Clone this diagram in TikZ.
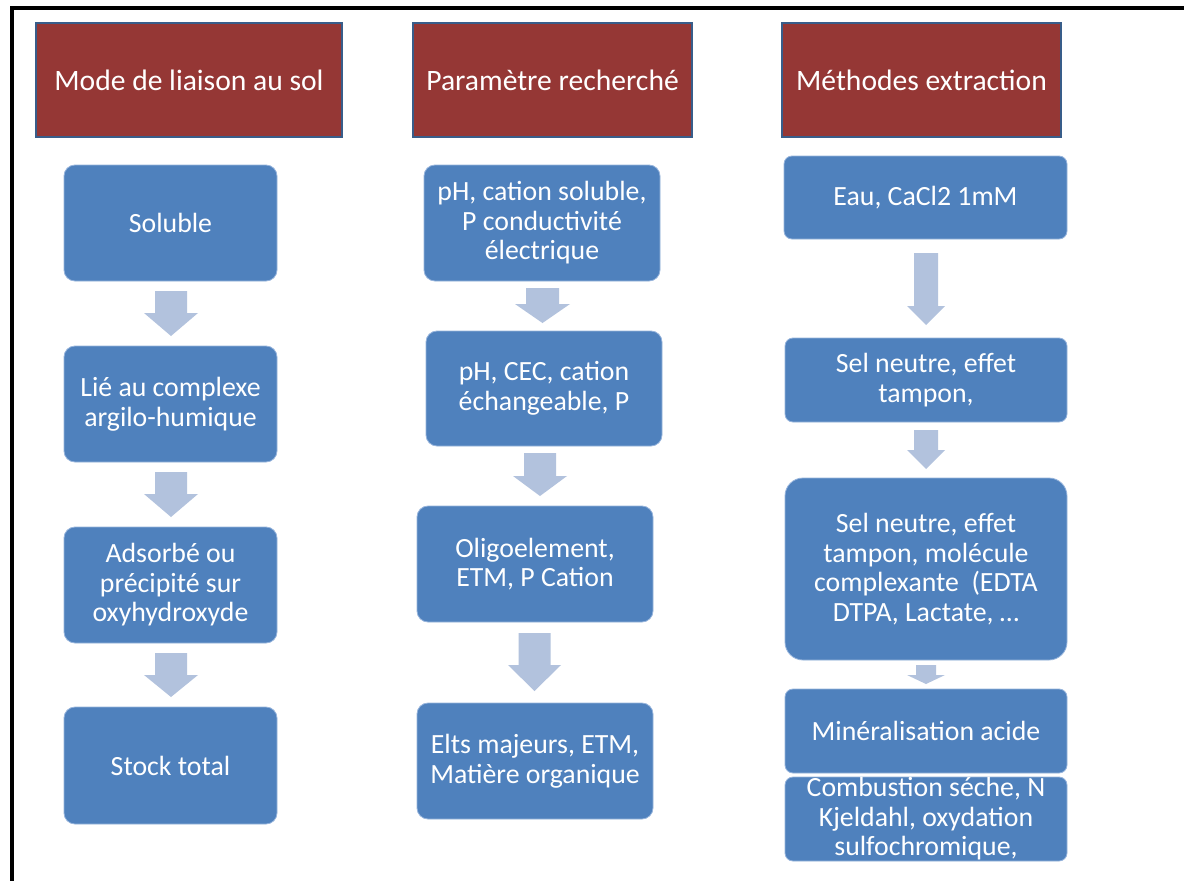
\documentclass[tikz,border=0pt]{standalone}
\usepackage{fontspec}
\setmainfont{Carlito}
\definecolor{boxblue}{RGB}{79,129,189}
\definecolor{boxedge}{RGB}{150,180,220}
\definecolor{arrowfill}{RGB}{178,194,221}
\definecolor{headred}{RGB}{149,55,53}
\definecolor{headedge}{RGB}{56,93,138}
\newcommand\myBodyFont{\fontsize{27.8}{29.5}\selectfont}
\newcommand\myHeadFont{\fontsize{29.6}{31}\selectfont}
\newcommand\blockarr[6]{\fill[arrowfill] ({#1-#5},#2) -- ({#1+#5},#2) -- ({#1+#5},#3) -- ({#1+#6},#3) -- (#1,#4) -- ({#1-#6},#3) -- ({#1-#5},#3) -- cycle;}
\tikzset{
  hdr/.style={rectangle, fill=headred, draw=headedge, line width=2pt, text=white,
    inner sep=0pt, align=center, font=\myHeadFont, minimum width=#1, minimum height=114pt},
  bbox/.style={rectangle, rounded corners=#1, fill=boxblue, draw=boxedge, line width=0.8pt,
    text=white, inner sep=0pt, align=center, font=\myBodyFont},
}
\begin{document}
\begin{tikzpicture}[x=1pt,y=-1pt]
\useasboundingbox (0,0) rectangle (1184,881);
\fill[white] (0,0) rectangle (1184,881);
\draw[line width=4pt, line join=miter] (12,881) -- (12,8) -- (1184,8);

% headers
\node[hdr=306pt] (h1) at (189,80) {Mode de liaison au sol};
\node[hdr=279pt] (h2) at (552.5,80) {Paramètre recherché};
\node[hdr=279pt] (h3) at (921.5,80) {Méthodes extraction};

% left column
\node[bbox=11pt, minimum width=213pt, minimum height=116pt] (l1) at (170.5,223) {Soluble};
\node[bbox=11pt, minimum width=213pt, minimum height=116pt] (l2) at (170.5,404) {Lié au complexe\\argilo-humique};
\node[bbox=11pt, minimum width=213pt, minimum height=116pt] (l3) at (170.5,585) {Adsorbé ou\\précipité sur\\oxyhydroxyde};
\node[bbox=11pt, minimum width=213pt, minimum height=117pt] (l4) at (170.5,765.5) {Stock total};
\blockarr{171}{291}{313}{336}{16}{27}
\blockarr{171}{472}{494}{517}{16}{27}
\blockarr{171}{653}{675}{697}{16}{27}

% middle column
\node[bbox=11pt, minimum width=236pt, minimum height=116pt] (m1) at (542,223) {pH, cation soluble,\\P conductivité\\électrique};
\node[bbox=11pt, minimum width=236pt, minimum height=115pt] (m2) at (544,388.5) {pH, CEC, cation\\échangeable, P};
\node[bbox=11pt, minimum width=236pt, minimum height=116pt] (m3) at (535,564) {Oligoelement,\\ETM, P Cation};
\node[bbox=11pt, minimum width=236pt, minimum height=116pt] (m4) at (535,761) {Elts majeurs, ETM,\\Matière organique};
\blockarr{542.5}{288}{304}{323}{16.5}{27.5}
\blockarr{540}{453}{476}{496}{16}{27}
\blockarr{534.5}{633}{665}{691}{16}{26.5}

% right column
\node[bbox=8pt, minimum width=283pt, minimum height=83pt] (r1) at (925.5,197.5) {Eau, CaCl2 1mM};
\node[bbox=8pt, minimum width=282pt, minimum height=84pt] (r2) at (926,380) {Sel neutre, effet\\tampon,};
\node[bbox=18pt, minimum width=282pt, minimum height=182pt] (r3) at (926,569) {Sel neutre, effet\\tampon, molécule\\complexante\ \ (EDTA\\DTPA, Lactate, …};
\node[bbox=8pt, minimum width=282pt, minimum height=84pt] (r4) at (926,731) {Minéralisation acide};
\begin{scope}
\clip (770,774) rectangle (1080,861.6);
\node[bbox=8pt, minimum width=282pt, minimum height=84pt] (r5) at (926,819) {Combustion séche, N\\Kjeldahl, oxydation\\sulfochromique,};
\end{scope}
\blockarr{926}{253}{306}{325}{12}{19}
\blockarr{926}{430}{450}{469}{12}{19}
\blockarr{926}{665}{675}{684}{10}{19}
\end{tikzpicture}
\end{document}
